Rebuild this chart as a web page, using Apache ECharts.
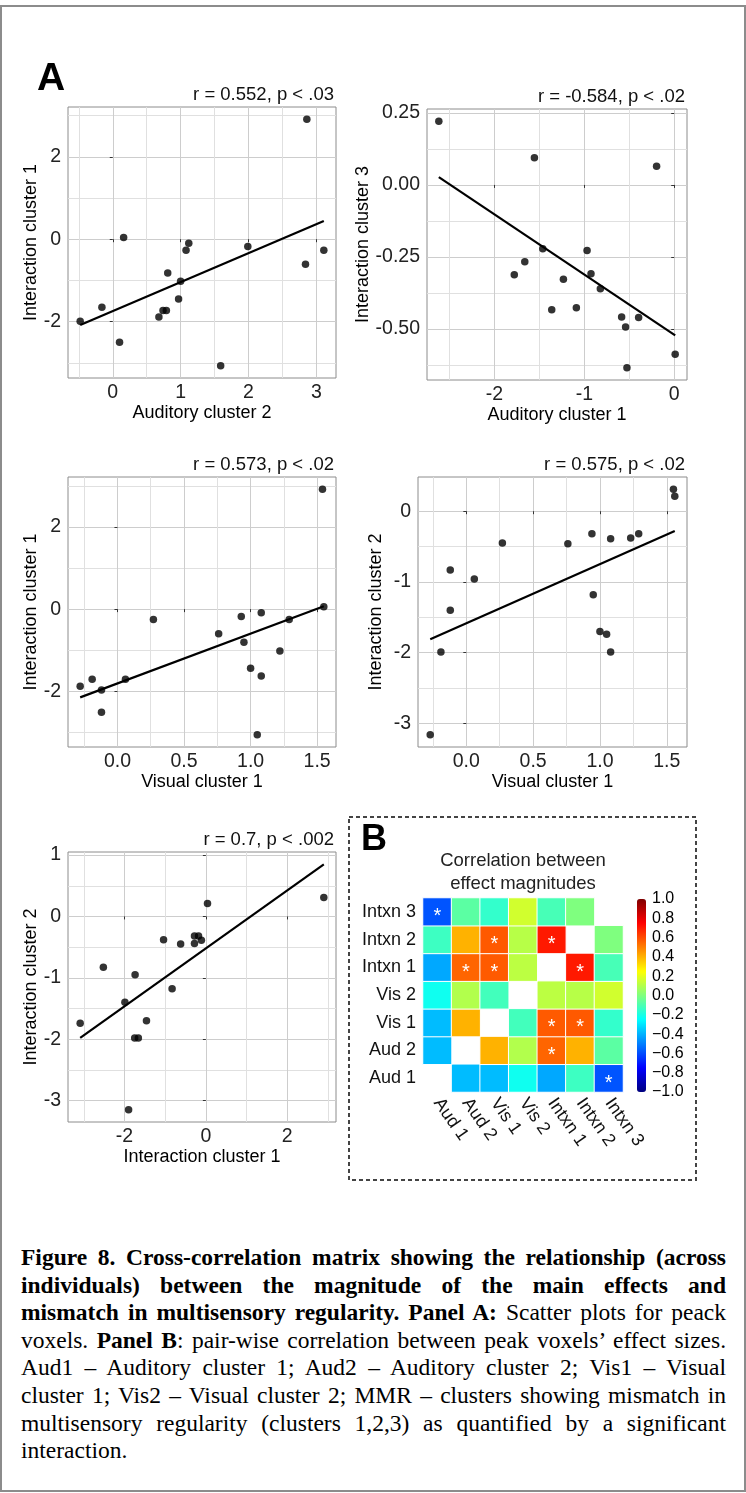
<!DOCTYPE html>
<html>
<head>
<meta charset="utf-8">
<title>Figure 8</title>
<script src="https://cdn.jsdelivr.net/npm/echarts@6.0.0/dist/echarts.min.js"></script>
<style>
html, body { margin: 0; padding: 0; background: #fff; }
#page { position: relative; width: 746px; height: 1493px; overflow: hidden; }
#frame { position: absolute; left: 0; top: 5px; width: 742px; height: 1483px; border: 2px solid #8c8c8c; }
#chart { position: absolute; left: 0; top: 0; width: 746px; height: 1200px; }
#caption { position: absolute; left: 21px; top: 1244px; width: 705px;
  font-family: "Liberation Serif", "Times New Roman", serif; font-size: 23.5px; line-height: 27.6px; color: #000; }
#caption .ln { text-align: justify; text-align-last: justify; }
#caption .last { text-align: left; text-align-last: left; }
</style>
</head>
<body>
<div id="page">
  <div id="frame"></div>
  <div id="chart"></div>
  <div id="caption">
    <div class="ln"><b>Figure 8. Cross-correlation matrix showing the relationship (across</b></div>
    <div class="ln"><b>individuals) between the magnitude of the main effects and</b></div>
    <div class="ln"><b>mismatch in multisensory regularity. Panel A:</b> Scatter plots for peack</div>
    <div class="ln">voxels. <b>Panel B</b>: pair-wise correlation between peak voxels’ effect sizes.</div>
    <div class="ln">Aud1 – Auditory cluster 1; Aud2 – Auditory cluster 2; Vis1 – Visual</div>
    <div class="ln">cluster 1; Vis2 – Visual cluster 2; MMR – clusters showing mismatch in</div>
    <div class="ln">multisensory regularity (clusters 1,2,3) as quantified by a significant</div>
    <div class="ln last">interaction.</div>
  </div>
</div>
<script>
// ---- Panel A data (17 participants per plot) ----
// 1: Auditory cluster 2 vs Interaction cluster 1
const p1X = [2.86, 0.16, 1.12, 1.08, 1.99, 3.11, 2.84, 0.81, 1.00, 0.97, 0.74, 0.79, 0.68, -0.16, -0.48, 0.10, 1.59];
const p1Y = [2.91, 0.04, -0.10, -0.27, -0.18, -0.27, -0.61, -0.82, -1.02, -1.45, -1.73, -1.73, -1.89, -1.65, -1.99, -2.50, -3.07];
const p1Fit = [[-0.48, -2.08], [3.11, 0.44]];
const p1XTicks = [0, 1, 2, 3], p1XMinor = [-0.5, 0.5, 1.5, 2.5];
const p1YTicks = [-2, 0, 2], p1YMinor = [-3, -1, 1, 3];

// 2: Auditory cluster 1 vs Interaction cluster 3
const p2X = [-2.62, -1.556, -0.196, -1.463, -0.97, -1.663, -1.78, -0.926, -1.233, -0.822, -1.363, -1.089, -0.585, -0.396, -0.541, 0.011, -0.526];
const p2Y = [0.221, 0.094, 0.065, -0.222, -0.228, -0.267, -0.312, -0.309, -0.328, -0.361, -0.434, -0.427, -0.459, -0.461, -0.494, -0.588, -0.635];
const p2Fit = [[-2.62, 0.027], [0.011, -0.523]];
const p2XTicks = [-2, -1, 0], p2XMinor = [-2.5, -1.5, -0.5];
const p2YTicks = [-0.5, -0.25, 0, 0.25], p2YMinor = [-0.625, -0.375, -0.125, 0.125];

// 3: Visual cluster 1 vs Interaction cluster 1
const p3X = [1.54, 1.55, 0.27, 0.93, 1.08, 0.76, 0.95, 1.29, 1.22, 1.00, 1.08, -0.28, -0.19, -0.12, 0.06, -0.12, 1.05];
const p3Y = [2.92, 0.06, -0.25, -0.18, -0.09, -0.60, -0.81, -0.25, -1.02, -1.44, -1.63, -1.88, -1.71, -1.97, -1.71, -2.51, -3.06];
const p3Fit = [[-0.28, -2.15], [1.55, 0.07]];
const p3XTicks = [0, 0.5, 1, 1.5], p3XMinor = [-0.25, 0.25, 0.75, 1.25];
const p3YTicks = [-2, 0, 2], p3YMinor = [-3, -1, 1, 3];

// 4: Visual cluster 1 vs Interaction cluster 2
const p4X = [1.55, 1.56, 0.27, 0.76, 0.94, 1.08, 1.23, 1.29, -0.12, 0.06, -0.12, 0.95, 1.00, 1.05, 1.08, -0.19, -0.27];
const p4Y = [0.31, 0.21, -0.45, -0.46, -0.32, -0.39, -0.38, -0.32, -0.83, -0.96, -1.40, -1.18, -1.70, -1.74, -1.99, -1.99, -3.16];
const p4Fit = [[-0.27, -1.81], [1.56, -0.28]];
const p4XTicks = [0, 0.5, 1, 1.5], p4XMinor = [-0.25, 0.25, 0.75, 1.25];
const p4YTicks = [-3, -2, -1, 0], p4YMinor = [-2.5, -1.5, -0.5];

// 5: Interaction cluster 1 vs Interaction cluster 2
const p5X = [2.90, 0.04, -1.04, -0.62, -0.28, -0.18, -0.11, -0.28, -2.52, -1.74, -0.83, -1.99, -1.46, -1.75, -1.66, -3.09, -1.90];
const p5Y = [0.31, 0.21, -0.38, -0.45, -0.32, -0.32, -0.39, -0.44, -0.83, -0.95, -1.18, -1.40, -1.70, -1.98, -1.98, -1.74, -3.15];
const p5Fit = [[-3.09, -1.98], [2.90, 0.85]];
const p5XTicks = [-2, 0, 2], p5XMinor = [-3, -1, 1, 3];
const p5YTicks = [-3, -2, -1, 0, 1], p5YMinor = [-2.5, -1.5, -0.5, 0.5];

// ---- Panel B data ----
const heatLabels = ['Aud 1', 'Aud 2', 'Vis 1', 'Vis 2', 'Intxn 1', 'Intxn 2', 'Intxn 3'];
const corr = [
  [null, -0.38, -0.38, -0.22, -0.42, -0.13, -0.584],
  [-0.38, null, 0.40, 0.10, 0.552, 0.40, -0.07],
  [-0.38, 0.40, null, -0.12, 0.573, 0.575, -0.15],
  [-0.22, 0.10, -0.12, null, 0.12, 0.11, 0.16],
  [-0.42, 0.552, 0.573, 0.12, null, 0.70, -0.11],
  [-0.13, 0.40, 0.575, 0.11, 0.70, null, 0.0],
  [-0.584, -0.07, -0.15, 0.16, -0.11, 0.0, null]
];
const sigPairs = [[0, 6], [1, 4], [2, 4], [2, 5], [4, 5]];
const barTicks = [-1, -0.8, -0.6, -0.4, -0.2, 0, 0.2, 0.4, 0.6, 0.8, 1];

const SANS = '"Liberation Sans", Arial, Helvetica, sans-serif';
const jet = ['#00007f', '#0000ff', '#007fff', '#00ffff', '#7fff7f', '#ffff00', '#ff7f00', '#ff0000', '#7f0000'];

const panels = [
  { x: p1X, y: p1Y, fit: p1Fit, xt: p1XTicks, xm: p1XMinor, yt: p1YTicks, ym: p1YMinor, xd: 0, yd: 0,
    xName: 'Auditory cluster 2', yName: 'Interaction cluster 1', title: 'r = 0.552, p < .03',
    box: [68, 107, 268, 271], yGap: 19 },
  { x: p2X, y: p2Y, fit: p2Fit, xt: p2XTicks, xm: p2XMinor, yt: p2YTicks, ym: p2YMinor, xd: 0, yd: 2,
    xName: 'Auditory cluster 1', yName: 'Interaction cluster 3', title: 'r = -0.584, p < .02',
    box: [427, 109, 260, 271], yGap: 46 },
  { x: p3X, y: p3Y, fit: p3Fit, xt: p3XTicks, xm: p3XMinor, yt: p3YTicks, ym: p3YMinor, xd: 1, yd: 0,
    xName: 'Visual cluster 1', yName: 'Interaction cluster 1', title: 'r = 0.573, p < .02',
    box: [68, 477, 268, 270], yGap: 19 },
  { x: p4X, y: p4Y, fit: p4Fit, xt: p4XTicks, xm: p4XMinor, yt: p4YTicks, ym: p4YMinor, xd: 1, yd: 0,
    xName: 'Visual cluster 1', yName: 'Interaction cluster 2', title: 'r = 0.575, p < .02',
    box: [418, 477, 269, 270], yGap: 33 },
  { x: p5X, y: p5Y, fit: p5Fit, xt: p5XTicks, xm: p5XMinor, yt: p5YTicks, ym: p5YMinor, xd: 0, yd: 0,
    xName: 'Interaction cluster 1', yName: 'Interaction cluster 2', title: 'r = 0.7, p < .002',
    box: [68, 852, 268, 270], yGap: 19 }
];

// ggplot-style range: data + fit line, expanded by 5% each side
function padRange(vals) {
  const lo = Math.min(...vals), hi = Math.max(...vals);
  const pad = (hi - lo) * 0.05;
  return [lo - pad, hi + pad];
}

function valueAxis(k, range, ticks, minor, dec, name, gap, isX) {
  const major = {
    type: 'value', gridIndex: k, min: range[0], max: range[1],
    name: name, nameLocation: 'middle', nameGap: gap,
    nameTextStyle: { fontSize: 18, color: '#000', fontFamily: SANS },
    axisLine: { show: false },
    axisTick: { show: true, length: 3, customValues: ticks, lineStyle: { color: '#333', width: 1 } },
    axisLabel: { customValues: ticks, formatter: v => Number(v).toFixed(dec),
      fontSize: 19.5, color: '#222', margin: isX ? 5 : 7, fontFamily: SANS },
    splitLine: { show: true, lineStyle: { color: '#cdcdcd', width: 1 } }
  };
  const minorAxis = {
    type: 'value', gridIndex: k, min: range[0], max: range[1],
    position: isX ? 'bottom' : 'left',
    axisLine: { show: false },
    axisTick: { show: false, customValues: minor },
    axisLabel: { show: false, customValues: minor },
    splitLine: { show: true, lineStyle: { color: '#e0e0e0', width: 1 } }
  };
  return [major, minorAxis];
}

const grid = [], xAxis = [], yAxis = [], series = [], title = [];

panels.forEach((p, k) => {
  const [l, t, w, h] = p.box;
  grid.push({ left: l, top: t, width: w, height: h, show: true,
    borderColor: '#8c8c8c', borderWidth: 1, backgroundColor: '#fff' });
  const xr = padRange(p.x.concat(p.fit.map(d => d[0])));
  const yr = padRange(p.y.concat(p.fit.map(d => d[1])));
  xAxis.push(...valueAxis(k, xr, p.xt, p.xm, p.xd, p.xName, 26, true));
  yAxis.push(...valueAxis(k, yr, p.yt, p.ym, p.yd, p.yName, p.yGap, false));
  series.push({
    type: 'scatter', xAxisIndex: 2 * k, yAxisIndex: 2 * k,
    data: p.x.map((v, i) => [v, p.y[i]]),
    symbolSize: 7.5, itemStyle: { color: '#000' }, silent: true, z: 3
  });
  series.push({
    type: 'line', xAxisIndex: 2 * k, yAxisIndex: 2 * k, data: p.fit,
    symbol: 'none', lineStyle: { color: '#000', width: 2.2 }, silent: true, z: 4
  });
  title.push({ text: p.title, right: 746 - (l + w) + 2, top: t - 22, padding: 0,
    textStyle: { fontSize: 18.5, fontWeight: 'normal', color: '#111', fontFamily: SANS } });
});

// ---- heatmap (panel B) ----
const heatData = [];
corr.forEach((row, i) => row.forEach((v, j) => { if (v !== null) heatData.push([j, i, v]); }));
const isSig = (a, b) => sigPairs.some(s => s[0] === Math.min(a, b) && s[1] === Math.max(a, b));

grid.push({ left: 423, top: 898, width: 200, height: 194, show: false });
xAxis.push({
  type: 'category', gridIndex: 5, data: heatLabels,
  axisLine: { show: false }, axisTick: { show: false }, splitLine: { show: false },
  axisLabel: { interval: 0, rotate: -55, margin: 8, fontSize: 18, color: '#111', fontFamily: SANS }
});
yAxis.push({
  type: 'category', gridIndex: 5, data: heatLabels,
  axisLine: { show: false }, axisTick: { show: false }, splitLine: { show: false },
  axisLabel: { interval: 0, margin: 7, fontSize: 18, color: '#111', fontFamily: SANS }
});
series.push({
  type: 'heatmap', xAxisIndex: 10, yAxisIndex: 10, data: heatData,
  itemStyle: { borderColor: '#fff', borderWidth: 1 },
  label: { show: true, color: '#fff', fontSize: 20, offset: [0, 5],
    formatter: p => isSig(p.data[0], p.data[1]) ? '*' : '' },
  emphasis: { disabled: true }, silent: true
});

// colour bar tick labels
grid.push({ left: 637, top: 899, width: 9, height: 193, show: false });
xAxis.push({ type: 'value', gridIndex: 6, show: false, min: 0, max: 1 });
yAxis.push({
  type: 'value', gridIndex: 6, min: -1, max: 1, position: 'right',
  axisLine: { show: false }, splitLine: { show: false },
  axisTick: { show: false, customValues: barTicks },
  axisLabel: { customValues: barTicks, margin: 6, fontSize: 16, color: '#000', fontFamily: SANS,
    formatter: v => Number(v).toFixed(1).replace('-', '\u2212') }
});

title.push(
  { text: 'A', left: 37, top: 60, padding: 0, textStyle: { fontSize: 39, fontWeight: 'bold', color: '#000', fontFamily: SANS } },
  { text: 'B', left: 361, top: 822, padding: 0, textStyle: { fontSize: 36, fontWeight: 'bold', color: '#000', fontFamily: SANS } },
  { text: 'Correlation between\neffect magnitudes', left: 523, top: 849, padding: 0, textAlign: 'center',
    textStyle: { fontSize: 18.5, lineHeight: 23, fontWeight: 'normal', color: '#222', fontFamily: SANS } }
);

const chart = echarts.init(document.getElementById('chart'), null, { renderer: 'canvas' });
chart.setOption({
  animation: false,
  textStyle: { fontFamily: SANS },
  title: title,
  grid: grid,
  xAxis: xAxis,
  yAxis: yAxis,
  visualMap: {
    type: 'continuous', min: -1, max: 1, seriesIndex: 10,
    left: 637, top: 899, itemWidth: 9, itemHeight: 193, padding: 0,
    calculable: false, hoverLink: false, inRange: { color: jet }
  },
  graphic: [{
    type: 'rect', shape: { x: 349, y: 817, width: 347, height: 363 },
    style: { fill: 'none', stroke: '#444', lineWidth: 2, lineDash: [4, 3] }, silent: true
  }],
  series: series
});
</script>
</body>
</html>
